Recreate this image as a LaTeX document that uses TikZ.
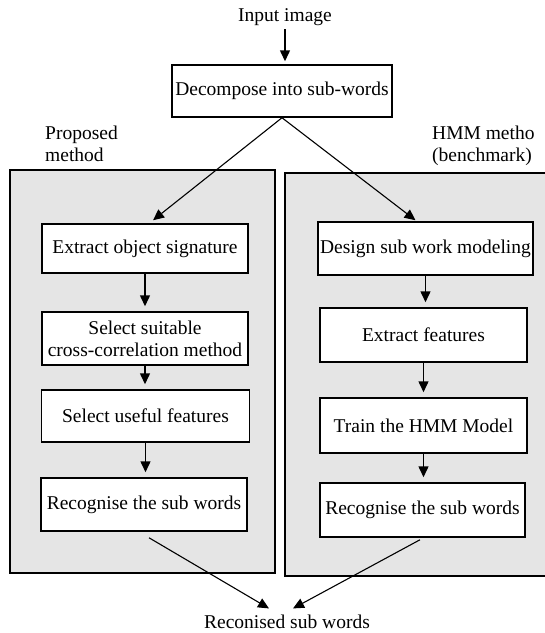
\documentclass[tikz,border=0pt]{standalone}
\usepackage{fontspec}
\setmainfont{Liberation Serif}
\usetikzlibrary{arrows.meta,positioning}

\begin{document}
\begin{tikzpicture}[x=1pt,y=-1pt,
    every node/.style={font=\fontsize{19.5}{22}\selectfont, inner sep=0pt},
    stepbox/.style={draw, line width=1.5pt, fill=white, align=center, minimum height=52pt},
    panel/.style={draw, line width=1.5pt, fill=black!10},
    flow/.style={line width=1.1pt, -{Triangle[length=11pt,width=10pt]}, shorten >=5pt}]
            \useasboundingbox (0,0) rectangle (545,633);

            % Rahmen
            \draw[panel] (10,170) rectangle (275,573);
            \draw[panel] (285,173) rectangle (550,576);

            % Eingang
            \node (input) at (285,17.5) {Input image};
            \node[stepbox, minimum width=220pt] (decomp) at (282,91) {Decompose into sub-words};

            % Beschriftung der Rahmen
            \node[anchor=north west, align=left] (lblprop) at (45,126) {Proposed\\method};
            \node[anchor=north west, align=left] (lblhmm) at (432,126) {HMM metho\\(benchmark)};

            % linke Spalte
            \node[stepbox, minimum width=206pt, minimum height=49pt] (sig) at (145,248.5) {Extract object signature};
            \node[stepbox, minimum width=206pt, minimum height=53pt] (corr) at (145,338.5) {Select suitable\\cross-correlation method};
            \node[stepbox, minimum width=208pt] (useful) at (145.5,416) {Select useful features};
            \node[stepbox, minimum width=206pt, minimum height=53pt] (recL) at (144,504.5) {Recognise the sub words};

            % rechte Spalte
            \node[stepbox, minimum width=215pt, minimum height=53pt] (design) at (425.5,248.5) {Design sub work modeling};
            \node[stepbox, minimum width=207pt, minimum height=54pt] (feat) at (423.5,335) {Extract features};
            \node[stepbox, minimum width=207pt, minimum height=55pt] (train) at (423.5,425.5) {Train the HMM Model};
            \node[stepbox, minimum width=205pt, minimum height=54pt] (recR) at (422.5,510) {Recognise the sub words};

            % Ausgang
            \node (out) at (287,621.5) {Reconised sub words};

            % Pfeile
            \draw[flow, line width=1.5pt, shorten <=3pt, shorten >=3pt] (input.south) -- (input.south |- decomp.north);
            \draw[flow, shorten >=0pt] (decomp.south) -- ([xshift=8pt,yshift=3pt]sig.north);
            \draw[flow, shorten >=0pt] (decomp.south) -- ([xshift=-10pt,yshift=1pt]design.north);
            \foreach \a/\b in {sig/corr, corr/useful, useful/recL, design/feat, feat/train, train/recR} {
                \draw[flow, line width=1.5pt] (\a.south) -- (\a.south |- \b.north);
            }
            \draw[flow, shorten >=0pt] ([xshift=5pt,yshift=-6pt]recL.south) -- ([xshift=-18pt,yshift=6pt]out.north);
            \draw[flow, shorten >=0pt] ([xshift=-2.5pt,yshift=-2pt]recR.south) -- ([xshift=6pt,yshift=6pt]out.north);
        \end{tikzpicture}
\end{document}
